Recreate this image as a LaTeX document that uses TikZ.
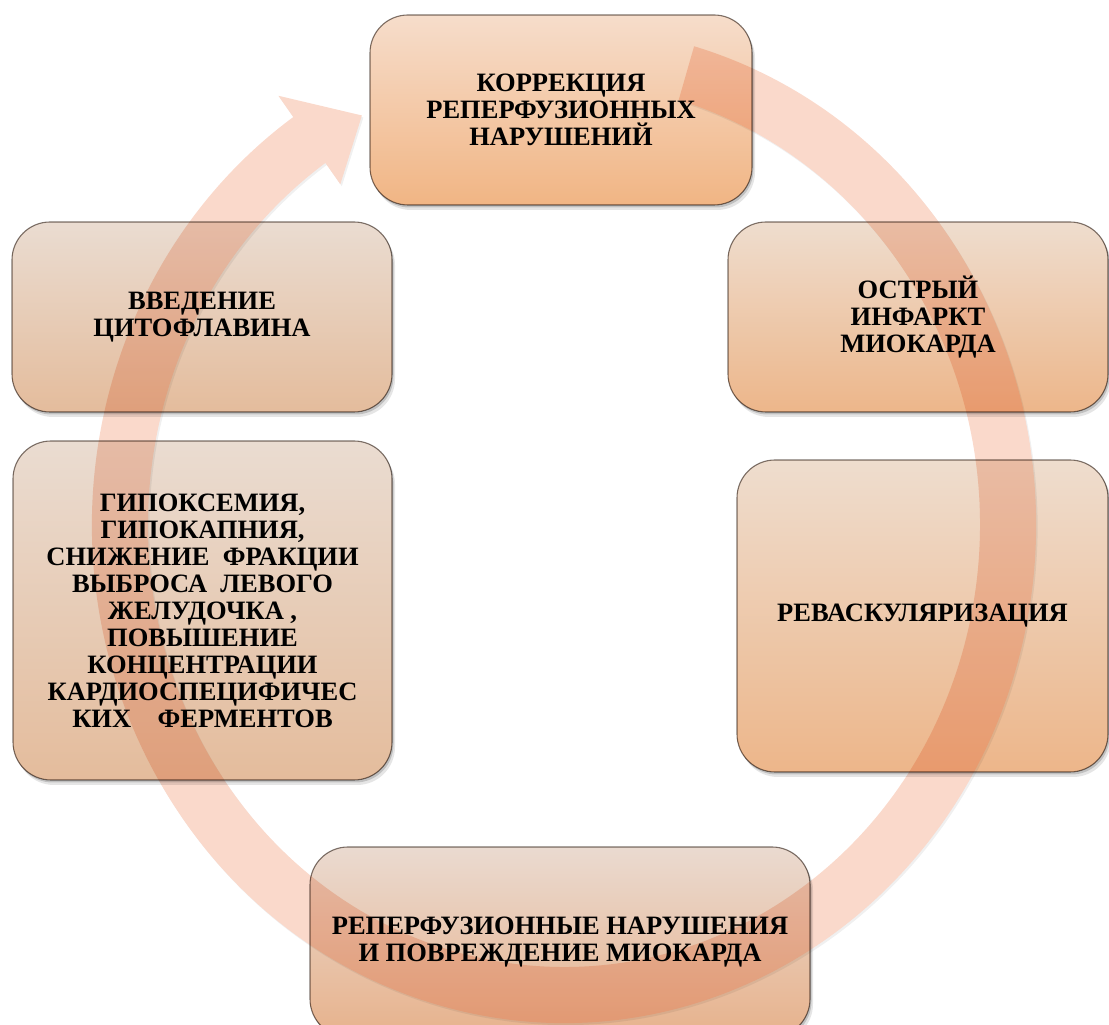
\documentclass[tikz,border=0pt]{standalone}
\usepackage{fontspec}
\setmainfont{Liberation Serif}
\usetikzlibrary{shadows,calc}
\definecolor{ringc}{RGB}{250,217,203}
\definecolor{boxline}{RGB}{128,118,112}
\definecolor{topT}{RGB}{246,221,203}
\definecolor{topB}{RGB}{241,181,132}
\definecolor{leftT}{RGB}{234,220,209}
\definecolor{leftB}{RGB}{228,188,156}
\definecolor{rightT}{RGB}{238,221,206}
\definecolor{rightB}{RGB}{237,182,138}
\definecolor{botT}{RGB}{234,218,208}
\definecolor{botB}{RGB}{231,178,140}
\newcommand{\boxshade}[1]{%
  \begin{scope}[even odd rule, rounded corners=38pt]
    \clip (-20,-20) rectangle (1130,1045)
      (#1.south west) rectangle (#1.north east);
    \fill[black, opacity=0.10]
      ([shift={(3,-5)}]#1.south west) rectangle ([shift={(3,-5)}]#1.north east);
    \fill[black, opacity=0.16]
      ([shift={(1.5,-2.5)}]#1.south west) rectangle ([shift={(1.5,-2.5)}]#1.north east);
  \end{scope}}
\begin{document}
\begin{tikzpicture}[x=1pt,y=1pt,
  box/.style={rectangle, rounded corners=38pt, draw=boxline, line width=1.1pt,
    inner sep=0pt, outer sep=0pt, align=center, text=black,
    font=\fontsize{26.5}{27}\selectfont\bfseries},
  ringst/.style={fill=ringc, draw=none,
    drop shadow={shadow xshift=1.5pt, shadow yshift=-2pt, opacity=0.12}}]
\useasboundingbox (0,0) rectangle (1109,1025);
\clip (0,0) rectangle (1109,1025);

% circular arrow (ring) behind the boxes
\coordinate (tailo) at ({564+472*cos(74)},{500+498*sin(74)});
\coordinate (ho) at ({564+472*cos(125)},{500+498*sin(125)});
\coordinate (hi) at ({564+416*cos(125)},{500+442*sin(125)});
\coordinate (hm) at ($(ho)!0.5!(hi)$);
\coordinate (wo) at ($(ho)!-26pt!(hi)$);
\coordinate (wi) at ($(hi)!-26pt!(ho)$);
\coordinate (tip) at ($(hm)!58pt!-100:(ho)$);
\path[ringst] (tailo) arc[start angle=74, end angle=-235, x radius=472pt, y radius=498pt]
  -- (wo) -- (tip) -- (wi) -- (hi)
  arc[start angle=-235, end angle=74, x radius=416pt, y radius=442pt] -- cycle;

\begin{scope}[blend mode=multiply]
\node[box, top color=topT, bottom color=topB, minimum width=382pt, minimum height=190pt]
  (korr) at (561,915) {КОРРЕКЦИЯ\\РЕПЕРФУЗИОННЫХ\\НАРУШЕНИЙ};
\node[box, top color=rightT, bottom color=rightB, minimum width=380pt, minimum height=190pt]
  (oim) at (918,708) {ОСТРЫЙ\\ИНФАРКТ\\МИОКАРДА};
\node[box, top color=rightT, bottom color=rightB, minimum width=371pt, minimum height=312pt]
  (revasc) at (922.5,409) {РЕВАСКУЛЯРИЗАЦИЯ};
\node[box, top color=botT, bottom color=botB, minimum width=500pt, minimum height=190pt]
  (repf) at (560,83) {РЕПЕРФУЗИОННЫЕ НАРУШЕНИЯ\\И ПОВРЕЖДЕНИЕ МИОКАРДА};
\node[box, top color=leftT, bottom color=leftB, minimum width=379pt, minimum height=339pt]
  (gipox) at (202.5,414.5) {ГИПОКСЕМИЯ,\\ГИПОКАПНИЯ,\\СНИЖЕНИЕ~~ФРАКЦИИ\\ВЫБРОСА~~ЛЕВОГО\\ЖЕЛУДОЧКА~,\\ПОВЫШЕНИЕ\\КОНЦЕНТРАЦИИ\\КАРДИОСПЕЦИФИЧЕС\\КИХ~~~~ФЕРМЕНТОВ};
\node[box, top color=leftT, bottom color=leftB, minimum width=380pt, minimum height=190pt]
  (cito) at (202,708) {ВВЕДЕНИЕ\\ЦИТОФЛАВИНА};
\end{scope}

% soft shadows outside each box
\boxshade{korr}
\boxshade{oim}
\boxshade{revasc}
\boxshade{repf}
\boxshade{gipox}
\boxshade{cito}
\end{tikzpicture}
\end{document}
